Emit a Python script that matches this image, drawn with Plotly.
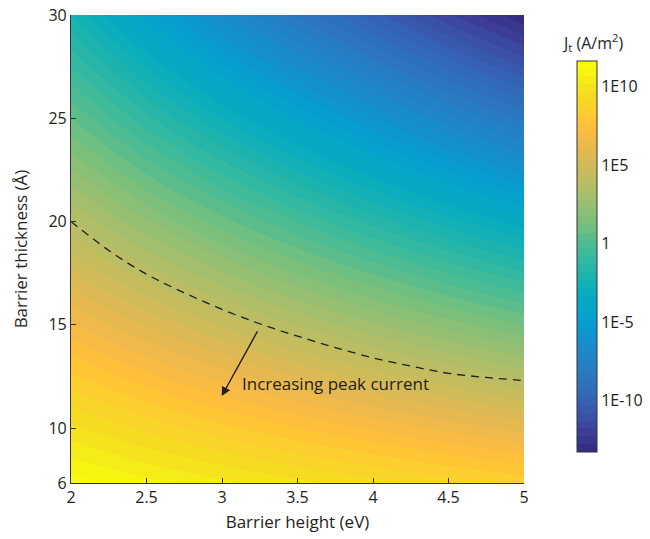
import plotly.graph_objects as go

# Barrier height (eV) grid and barrier thickness (Å) grid
barrier_height = [2.0, 2.5, 3.0, 3.5, 4.0, 4.5, 5.0]
barrier_thickness = [7.0, 10.0, 15.0, 20.0, 25.0, 30.0]

# log10 of tunnelling current density J_t (A/m^2)
logJ_d7 = [11.64, 11.09, 10.59, 10.12, 9.68, 9.26, 8.87]
logJ_d10 = [9.82, 9.05, 8.35, 7.71, 7.10, 6.53, 5.99]
logJ_d15 = [6.78, 5.65, 4.63, 3.68, 2.80, 1.97, 1.18]
logJ_d20 = [3.74, 2.25, 0.90, -0.34, -1.50, -2.59, -3.63]
logJ_d25 = [0.70, -1.15, -2.82, -4.36, -5.80, -7.16, -8.44]
logJ_d30 = [-2.34, -4.55, -6.54, -8.39, -10.10, -11.72, -13.25]
logJ = [logJ_d7, logJ_d10, logJ_d15, logJ_d20, logJ_d25, logJ_d30]

# dashed curve (peak-current boundary)
dash_height = [2.0, 2.25, 2.5, 2.75, 3.0, 3.25, 3.5, 3.75, 4.0, 4.25, 4.5, 4.75, 5.0]
dash_thick = [20.0, 18.6, 17.45, 16.55, 15.75, 15.05, 14.45, 13.9, 13.4, 13.0, 12.65, 12.45, 12.3]

# axis ticks
x_ticks = [2, 2.5, 3, 3.5, 4, 4.5, 5]
x_ticktext = ["2", "2.5", "3", "3.5", "4", "4.5", "5"]
y_bottom = 7.34
y_ticks = [y_bottom, 10, 15, 20, 25, 30]
y_ticktext = ["6", "10", "15", "20", "25", "30"]
cb_ticks = [10, 5, 0, -5, -10]
cb_ticktext = ["1E10", "1E5", "1", "1E-5", "1E-10"]
z_min, z_max = -13.3, 11.65

# colour map (parula-like, with the muted blues of the reference)
cmap_low = [
    (0.00, (52, 42, 130)), (0.05, (60, 62, 150)), (0.10, (58, 85, 170)),
    (0.15, (50, 105, 182)), (0.20, (42, 120, 192)), (0.25, (32, 133, 200)),
    (0.30, (18, 146, 207)),
]
parula_high = [
    [0.0265, 0.6137, 0.8135], [0.0239, 0.6287, 0.8038], [0.0231, 0.6418, 0.7913],
    [0.0228, 0.6535, 0.7768], [0.0267, 0.6642, 0.7607], [0.0384, 0.6743, 0.7436],
    [0.0590, 0.6838, 0.7254], [0.0843, 0.6928, 0.7062], [0.1133, 0.7015, 0.6859],
    [0.1453, 0.7098, 0.6646], [0.1801, 0.7177, 0.6424], [0.2178, 0.7250, 0.6193],
    [0.2586, 0.7317, 0.5954], [0.3022, 0.7376, 0.5712], [0.3482, 0.7424, 0.5473],
    [0.3953, 0.7459, 0.5244], [0.4420, 0.7481, 0.5033], [0.4871, 0.7491, 0.4840],
    [0.5300, 0.7491, 0.4661], [0.5709, 0.7485, 0.4494], [0.6099, 0.7473, 0.4337],
    [0.6473, 0.7456, 0.4188], [0.6834, 0.7435, 0.4044], [0.7184, 0.7411, 0.3905],
    [0.7525, 0.7384, 0.3768], [0.7858, 0.7356, 0.3633], [0.8185, 0.7327, 0.3498],
    [0.8507, 0.7299, 0.3360], [0.8824, 0.7274, 0.3217], [0.9139, 0.7258, 0.3063],
    [0.9450, 0.7261, 0.2886], [0.9739, 0.7314, 0.2666], [0.9938, 0.7455, 0.2403],
    [0.9990, 0.7653, 0.2164], [0.9955, 0.7861, 0.1967], [0.9880, 0.8066, 0.1794],
    [0.9789, 0.8271, 0.1633], [0.9697, 0.8481, 0.1475], [0.9626, 0.8705, 0.1309],
    [0.9589, 0.8949, 0.1132], [0.9598, 0.9218, 0.0948], [0.9661, 0.9514, 0.0755],
    [0.9763, 0.9831, 0.0538],
]
colorscale = [[p, "rgb(%d,%d,%d)" % c] for p, c in cmap_low]
nh = len(parula_high)
for i, rgb in enumerate(parula_high):
    p = 21 / 63 + i * (42 / 63) / (nh - 1)
    colorscale.append([min(p, 1.0), "rgb(%d,%d,%d)" % tuple(round(v * 255) for v in rgb)])
colorscale[-1][0] = 1.0

FONT = "Open Sans"
TXT = "#231f20"

fig = go.Figure()
fig.add_trace(go.Contour(
    x=barrier_height, y=barrier_thickness, z=logJ,
    colorscale=colorscale, zmin=z_min, zmax=z_max,
    autocontour=False,
    contours=dict(start=z_min, end=z_max, size=0.5, coloring="fill", showlines=False),
    line=dict(width=0),
    colorbar=dict(
        x=1.117, xanchor="left", xpad=0, y=0.484, yanchor="middle", ypad=0,
        len=0.8355, lenmode="fraction", thickness=20, thicknessmode="pixels",
        outlinecolor="#333333", outlinewidth=1,
        tickvals=cb_ticks, ticktext=cb_ticktext, ticks="",
        tickfont=dict(family=FONT, size=16, color=TXT),
    ),
    hoverinfo="skip",
))

fig.add_trace(go.Scatter(
    x=dash_height, y=dash_thick, mode="lines",
    line=dict(color="#231f20", width=1.3, dash="8px,6px", shape="spline"),
    showlegend=False, hoverinfo="skip",
))

arrow_tail = (3.24, 14.75)
arrow_head = (2.998, 11.55)
fig.add_annotation(
    x=arrow_head[0], y=arrow_head[1], ax=arrow_tail[0], ay=arrow_tail[1],
    xref="x", yref="y", axref="x", ayref="y",
    showarrow=True, arrowhead=2, arrowsize=1.3, arrowwidth=1.4, arrowcolor="#231f20",
    text="",
)
fig.add_annotation(
    x=3.119, y=12.18, xref="x", yref="y", xanchor="left", yanchor="middle",
    text="Increasing peak current", showarrow=False,
    font=dict(family=FONT, size=17, color=TXT),
)
fig.add_annotation(
    x=1.152, y=0.942, xref="paper", yref="paper", xanchor="center", yanchor="middle",
    text="J<sub>t</sub> (A/m<sup>2</sup>)", showarrow=False,
    font=dict(family=FONT, size=16, color=TXT),
)

axis_common = dict(
    showline=True, linecolor="#333333", linewidth=1.2, mirror=False,
    ticks="inside", ticklen=5, tickcolor="#333333", tickwidth=1.2,
    showgrid=False, zeroline=False,
    tickfont=dict(family=FONT, size=16, color=TXT),
)
fig.update_xaxes(
    range=[2, 5], tickvals=x_ticks, ticktext=x_ticktext,
    title=dict(text="Barrier height (eV)", font=dict(family=FONT, size=17, color=TXT), standoff=8),
    **axis_common,
)
fig.update_yaxes(
    range=[y_bottom, 30], tickvals=y_ticks, ticktext=y_ticktext,
    title=dict(text="Barrier thickness (Å)", font=dict(family=FONT, size=17, color=TXT), standoff=16),
    **axis_common,
)
fig.update_layout(
    width=650, height=539,
    margin=dict(l=71, r=126, t=15, b=56, autoexpand=False),
    paper_bgcolor="white", plot_bgcolor="white",
    showlegend=False,
)
fig.write_html("out.html")
